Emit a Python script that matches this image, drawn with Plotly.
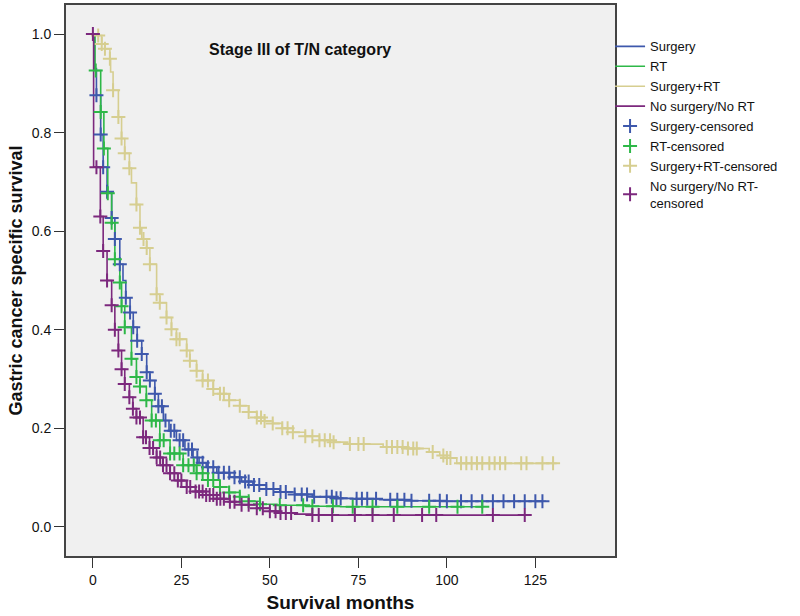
import numpy as np
import plotly.graph_objects as go

# ---------------- data ----------------
groups = ["Surgery", "RT", "Surgery+RT", "No surgery/No RT"]

surgery_t = [0, 0.4, 1, 2.2, 2.9, 4, 5.3, 6.2, 7.6, 8.5, 9.3, 10.5, 11.4, 12.5, 13.8, 15.2, 16.1, 17.5,
             18.5, 19.9, 21.5, 23.6, 26, 28.3, 30, 32, 35, 38.7, 42, 45.2, 49, 52.8, 57, 62, 68, 73.4,
             81, 90, 100, 128]
surgery_s = [1.0, 0.93, 0.876, 0.796, 0.73, 0.68, 0.627, 0.584, 0.533, 0.50, 0.465, 0.435, 0.405, 0.378,
             0.351, 0.314, 0.297, 0.27, 0.245, 0.216, 0.195, 0.176, 0.157, 0.141, 0.13, 0.121, 0.11,
             0.101, 0.092, 0.085, 0.077, 0.071, 0.066, 0.061, 0.058, 0.057, 0.055, 0.053, 0.052, 0.052]
surgery_cens = [1, 2.2, 2.9, 4, 5.3, 6.2, 7.6, 9.3, 10.5, 11.4, 12.5, 13.8, 15.2, 16.1, 17.5, 18.5, 19.5,
                20.5, 22, 23, 24.5, 25.5, 27, 28, 29.5, 31, 32.5, 34, 35.5, 37, 38.5, 40, 41.5, 43, 44,
                45.5, 47, 49, 51, 53, 54.5, 57, 59, 60.5, 62.5, 66, 67.5, 68.8, 70, 74.5, 76, 77.5, 80,
                84, 86, 88, 90, 95, 98, 100, 104, 107, 110, 113, 116, 119, 122, 125, 127]

rt_t = [0, 0.6, 2.2, 3.1, 4.2, 5.3, 6.2, 7.6, 8.1, 9, 10.9, 12.3, 13.3, 15.1, 16.6, 18.9, 21.8, 25.5,
        29.3, 32.5, 35.9, 38.5, 41.5, 44, 47.2, 52, 60, 70, 110]
rt_s = [1.0, 0.926, 0.842, 0.768, 0.677, 0.617, 0.543, 0.496, 0.448, 0.405, 0.341, 0.304, 0.285, 0.257,
        0.216, 0.176, 0.149, 0.125, 0.109, 0.095, 0.081, 0.07, 0.061, 0.052, 0.046, 0.044, 0.042,
        0.041, 0.041]
rt_cens = [0.8, 2.2, 3.1, 4.2, 5.3, 6.2, 7.6, 8.1, 9, 10.9, 12.3, 13.3, 15.1, 16.6, 17.8, 18.9, 20,
           21.8, 23, 24.5, 25.5, 27, 28.5, 29.3, 31, 32.5, 34, 35.9, 38.5, 41.5, 44, 47.2, 52.8, 59.4,
           62, 67.8, 73.4, 79, 86, 95, 103, 110]

surgrt_t = [0, 1.5, 2.5, 3.4, 4.8, 5.0, 5.7, 7.2, 8.1, 9, 10.3, 10.9, 12.3, 13.3, 13.8, 15.2, 16.1, 18,
            18.9, 20.8, 22.2, 23.6, 26.5, 27.4, 29.3, 31, 34, 35.9, 38.5, 41.5, 44, 46.3, 48.5, 50.8,
            53.5, 56.5, 60, 64, 68, 72, 82, 88, 95, 98, 100, 102.8, 131]
surgrt_s = [1.0, 0.997, 0.98, 0.97, 0.95, 0.923, 0.886, 0.832, 0.788, 0.758, 0.728, 0.698, 0.654,
            0.607, 0.584, 0.566, 0.533, 0.472, 0.455, 0.425, 0.401, 0.381, 0.358, 0.337, 0.317, 0.297,
            0.28, 0.27, 0.257, 0.246, 0.233, 0.222, 0.215, 0.21, 0.2, 0.192, 0.184, 0.176, 0.172,
            0.168, 0.162, 0.159, 0.152, 0.145, 0.14, 0.129, 0.129]
surgrt_cens = [1.5, 2.5, 3.4, 4.8, 5.7, 7.2, 8.1, 9, 10.3, 12.3, 13.3, 14.3, 15.2, 16.1, 18, 18.9, 20.8,
               22.2, 23.6, 24.5, 26.5, 27.4, 29.3, 31, 32.5, 34, 35.9, 37, 38.5, 41.5, 44, 46.3, 47.5,
               48.5, 50.8, 53.5, 55, 56.5, 60, 62, 64, 65.5, 67, 68, 72.6, 75, 76.5, 83, 84.5, 86,
               87.5, 89, 90.5, 91.5, 96, 99, 100, 101, 104, 105.5, 107, 108.5, 110, 112, 113.5, 115,
               116.5, 121, 122.5, 127, 130]

nosurg_t = [0, 0.2, 2.1, 2.9, 4, 5.3, 6.2, 7.2, 8.1, 9, 10.3, 11.3, 12.3, 14.2, 16, 18, 19.8, 21.8, 24,
            26.5, 29, 32, 35, 38.7, 42, 46.3, 50, 52.8, 57, 62, 122]
nosurg_s = [1.0, 0.73, 0.63, 0.56, 0.50, 0.45, 0.40, 0.358, 0.32, 0.29, 0.263, 0.24, 0.222, 0.182,
            0.16, 0.141, 0.125, 0.109, 0.094, 0.081, 0.072, 0.065, 0.057, 0.051, 0.045, 0.038, 0.032,
            0.028, 0.026, 0.024, 0.024]
nosurg_cens = [0, 1, 2.1, 2.9, 4, 5.3, 6.2, 7.2, 8.1, 9, 10.3, 11.3, 12.3, 13.3, 14.2, 15, 16, 17, 18,
               19, 19.8, 20.8, 21.8, 23, 24, 25, 26.5, 27.5, 29, 30, 31, 32, 33, 34, 35, 36, 37, 38.7,
               40, 42, 44, 46.3, 48, 50, 51.6, 53, 54.5, 56, 62, 63.8, 67.6, 74, 79, 85, 93, 97, 113, 122]

colors = ["#3E58AC", "#2EB848", "#D6CE90", "#7C287D"]
series = [(surgery_t, surgery_s, surgery_cens), (rt_t, rt_s, rt_cens),
          (surgrt_t, surgrt_s, surgrt_cens), (nosurg_t, nosurg_s, nosurg_cens)]


def step_lookup(t, s, c):
    t = np.asarray(t, float)
    s = np.asarray(s, float)
    idx = np.searchsorted(t, np.asarray(c, float), side="right") - 1
    idx = np.clip(idx, 0, len(s) - 1)
    return s[idx]


fig = go.Figure()
for name, col, (t, s, c) in zip(groups, colors, series):
    fig.add_trace(go.Scatter(x=t, y=s, mode="lines", line=dict(color=col, width=1.6, shape="hv"),
                             name=name))
cens_names = ["Surgery-censored", "RT-censored", "Surgery+RT-censored", "No surgery/No RT-<br>censored"]
for name, col, (t, s, c) in zip(cens_names, colors, series):
    fig.add_trace(go.Scatter(x=c, y=step_lookup(t, s, c), mode="markers", name=name,
                             marker=dict(symbol="cross-thin", size=10, line=dict(color=col, width=2),
                                         color=col)))

fig.add_annotation(text="<b>Stage III of T/N category</b>", x=0.427, y=0.920, xref="paper", yref="paper",
                   xanchor="center", yanchor="middle", showarrow=False,
                   font=dict(family="Liberation Sans, Arial", size=16, color="#111111"))

fig.update_layout(
    width=800, height=616,
    margin=dict(l=66, r=185, t=3, b=60),
    paper_bgcolor="white", plot_bgcolor="#F0F0F0",
    font=dict(family="Liberation Sans, Arial", size=13, color="#111111"),
    showlegend=True,
    legend=dict(x=0.991, y=0.952, xanchor="left", yanchor="top", bgcolor="rgba(0,0,0,0)",
                font=dict(size=13), itemwidth=30, tracegroupgap=0),
    xaxis=dict(range=[-7.6, 147.5], tickvals=[0, 25, 50, 75, 100, 125], showgrid=False, zeroline=False,
               showline=True, linecolor="#444444", linewidth=2, mirror=True, ticks="outside",
               ticklen=10, tickcolor="#333333", tickfont=dict(size=14),
               title=dict(text="<b>Survival months</b>", font=dict(size=19), standoff=9)),
    yaxis=dict(range=[-0.059, 1.059], tickvals=[0, 0.2, 0.4, 0.6, 0.8, 1.0], tickformat=".1f",
               showgrid=False, zeroline=False, showline=True, linecolor="#444444", linewidth=2,
               mirror=True, ticks="outside", ticklen=10, tickcolor="#333333", tickfont=dict(size=14),
               title=dict(text="<b>Gastric cancer specific survival</b>", font=dict(size=18), standoff=4)),
)

fig.write_html("out.html", config={"displayModeBar": False},
               post_script="document.body.style.margin='0px';")
